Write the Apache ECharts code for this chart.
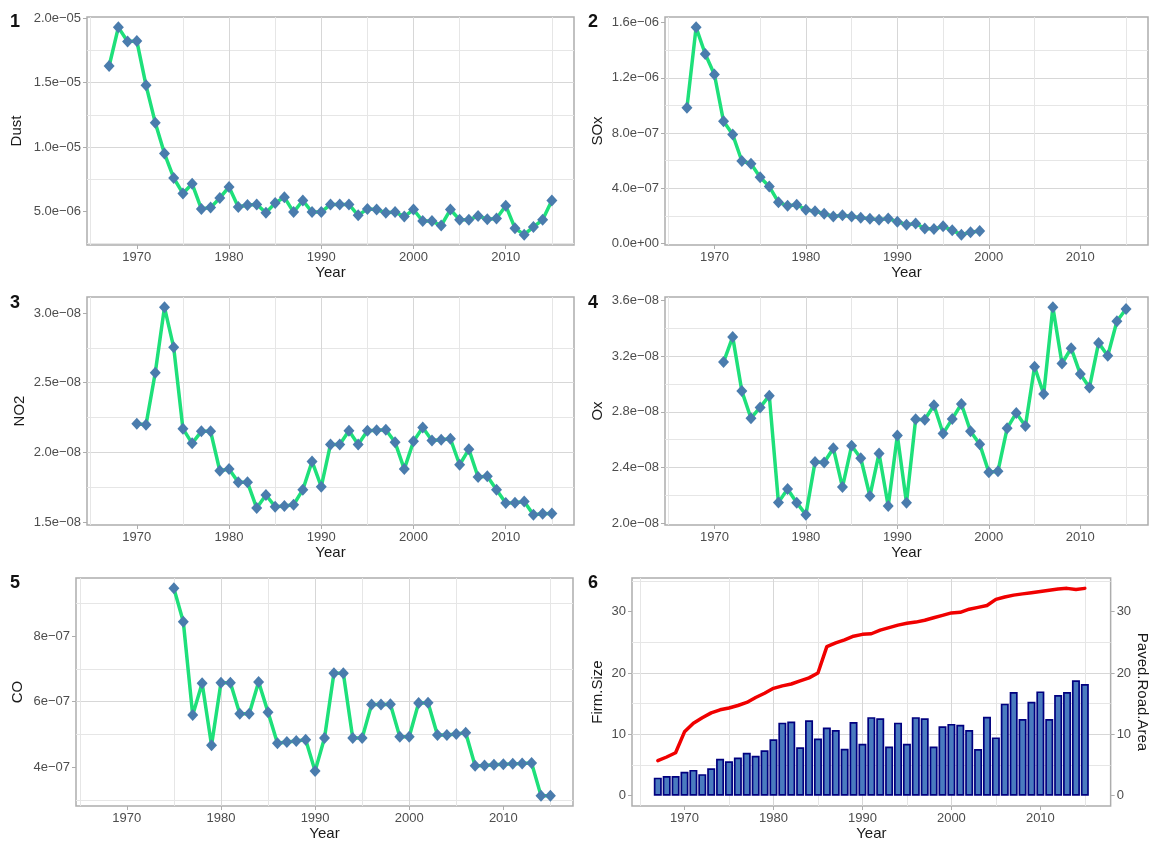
<!DOCTYPE html>
<html><head><meta charset="utf-8">
<script src="https://cdn.jsdelivr.net/npm/echarts@6/dist/echarts.min.js"></script>
<style>html,body{margin:0;padding:0;background:#fff}#c{width:1151px;height:842px}</style>
</head><body><div id="c"></div>
<script>
const years = [1967,1968,1969,1970,1971,1972,1973,1974,1975,1976,1977,1978,1979,1980,1981,1982,1983,1984,1985,1986,1987,1988,1989,1990,1991,1992,1993,1994,1995,1996,1997,1998,1999,2000,2001,2002,2003,2004,2005,2006,2007,2008,2009,2010,2011,2012,2013,2014,2015];

const dust = [16.3e-6,19.3e-6,18.2e-6,18.25e-6,14.8e-6,11.9e-6,9.5e-6,7.6e-6,6.4e-6,7.15e-6,
  5.2e-6,5.3e-6,6.05e-6,6.9e-6,5.35e-6,5.5e-6,5.55e-6,4.9e-6,5.65e-6,6.1e-6,
  4.95e-6,5.85e-6,4.95e-6,4.95e-6,5.55e-6,5.55e-6,5.55e-6,4.7e-6,5.2e-6,5.15e-6,
  4.9e-6,4.95e-6,4.6e-6,5.15e-6,4.25e-6,4.25e-6,3.9e-6,5.15e-6,4.35e-6,4.35e-6,
  4.65e-6,4.4e-6,4.45e-6,5.45e-6,3.7e-6,3.2e-6,3.8e-6,4.35e-6,5.85e-6];

const sox = [9.84e-7,15.65e-7,13.72e-7,12.24e-7,8.85e-7,7.89e-7,5.98e-7,5.78e-7,4.80e-7,4.13e-7,
  3.00e-7,2.74e-7,2.81e-7,2.45e-7,2.35e-7,2.16e-7,1.97e-7,2.06e-7,1.97e-7,1.87e-7,
  1.80e-7,1.73e-7,1.82e-7,1.58e-7,1.37e-7,1.46e-7,1.10e-7,1.06e-7,1.25e-7,0.96e-7,
  0.65e-7,0.82e-7,0.91e-7,
  null,null,null,null,null,null,null,null,null,null,null,null,null,null,null,null];

const no2 = [null,null,null,
  2.206e-8,2.199e-8,2.572e-8,3.041e-8,2.754e-8,2.170e-8,2.065e-8,2.151e-8,2.151e-8,1.868e-8,
  1.880e-8,1.785e-8,1.785e-8,1.600e-8,1.694e-8,1.610e-8,1.615e-8,1.624e-8,1.732e-8,1.935e-8,
  1.754e-8,2.057e-8,2.057e-8,2.155e-8,2.057e-8,2.155e-8,2.158e-8,2.163e-8,2.072e-8,1.880e-8,
  2.079e-8,2.179e-8,2.086e-8,2.091e-8,2.098e-8,1.911e-8,2.022e-8,1.823e-8,1.828e-8,1.732e-8,
  1.636e-8,1.639e-8,1.648e-8,1.553e-8,1.560e-8,1.562e-8];

const ox = [null,null,null,null,
  3.157e-8,3.338e-8,2.949e-8,2.754e-8,2.832e-8,2.916e-8,2.150e-8,2.246e-8,2.148e-8,2.062e-8,
  2.439e-8,2.436e-8,2.539e-8,2.260e-8,2.556e-8,2.467e-8,2.196e-8,2.501e-8,2.124e-8,2.630e-8,
  2.148e-8,2.746e-8,2.744e-8,2.847e-8,2.644e-8,2.749e-8,2.856e-8,2.661e-8,2.568e-8,2.367e-8,
  2.374e-8,2.682e-8,2.792e-8,2.699e-8,3.123e-8,2.928e-8,3.550e-8,3.147e-8,3.257e-8,3.071e-8,
  2.975e-8,3.295e-8,3.202e-8,3.450e-8,3.538e-8];

const co = [null,null,null,null,null,null,null,null,
  9.46e-7,8.44e-7,5.59e-7,6.56e-7,4.67e-7,6.58e-7,6.58e-7,5.63e-7,5.63e-7,6.60e-7,
  5.68e-7,4.73e-7,4.77e-7,4.80e-7,4.84e-7,3.88e-7,4.89e-7,6.87e-7,6.87e-7,4.89e-7,
  4.89e-7,5.91e-7,5.91e-7,5.92e-7,4.93e-7,4.93e-7,5.96e-7,5.97e-7,4.98e-7,4.98e-7,
  5.01e-7,5.05e-7,4.04e-7,4.05e-7,4.07e-7,4.09e-7,4.10e-7,4.11e-7,4.13e-7,3.13e-7,
  3.13e-7];

const firmSize = [2.93,3.2,3.2,3.9,4.2,3.5,4.45,6.0,5.6,6.2,
  7.0,6.5,7.4,9.2,11.9,12.1,7.9,12.3,9.3,11.1,
  10.7,7.65,12.0,8.46,12.8,12.6,8.0,11.9,8.46,12.8,
  12.6,8.0,11.3,11.7,11.55,10.7,7.6,12.85,9.5,15.0,
  16.9,12.5,15.3,17.0,12.5,16.4,16.9,18.8,18.2];

const pavedRoad = [5.7,6.3,7.0,10.4,11.8,12.7,13.5,14.0,14.3,14.7,
  15.2,16.0,16.7,17.5,17.9,18.2,18.7,19.2,20.0,24.3,
  24.9,25.4,26.0,26.3,26.4,27.0,27.4,27.8,28.1,28.3,
  28.6,29.0,29.4,29.8,29.9,30.4,30.7,31.0,32.0,32.4,
  32.7,32.9,33.1,33.3,33.5,33.7,33.8,33.6,33.8];

const xTicks = [1970,1980,1990,2000,2010];
const dustTicks = [5e-6,1e-5,1.5e-5,2e-5];
const soxTicks = [0,4e-7,8e-7,1.2e-6,1.6e-6];
const no2Ticks = [1.5e-8,2.0e-8,2.5e-8,3.0e-8];
const oxTicks = [2.0e-8,2.4e-8,2.8e-8,3.2e-8,3.6e-8];
const coTicks = [4e-7,6e-7,8e-7];
const sizeTicks = [0,10,20,30];

const FONT = '"Liberation Sans", Arial, sans-serif';
const GRIDC = '#D7D7D7', MINORC = '#E6E6E6', BORDER = '#ADADAD', LABELC = '#4D4D4D', TITLEC = '#1A1A1A';
const LINEC = '#1EE07A', PTC = '#4A7CAD';

function sci(d) {
  return function (v) {
    const s = Number(v).toExponential(d);
    const parts = s.split('e');
    const sign = parts[1][0] === '-' ? '\u2212' : '+';
    let n = parts[1].replace(/^[+-]/, '');
    if (n.length < 2) n = '0' + n;
    return parts[0] + 'e' + sign + n;
  };
}

function pairs(vals) { return years.map((y, i) => [y, vals[i]]); }

const grids = [
  {left: 87, top: 17, width: 487, height: 228},
  {left: 665, top: 17, width: 483, height: 228},
  {left: 87, top: 297, width: 487, height: 228},
  {left: 665, top: 297, width: 483, height: 228},
  {left: 76, top: 578, width: 497, height: 228},
  {left: 632, top: 578, width: 479, height: 228}
].map(g => Object.assign(g, {show: true, borderColor: BORDER, borderWidth: 1.5, backgroundColor: '#fff', containLabel: false}));

function xAxis(gi, min, max) {
  return {
    type: 'value', gridIndex: gi, min: min, max: max, minInterval: 10, maxInterval: 10, splitNumber: 5,
    name: 'Year', nameLocation: 'middle', nameGap: 20,
    nameTextStyle: {fontSize: 15, color: TITLEC, fontFamily: FONT},
    axisLine: {show: false, onZero: false},
    axisTick: {show: true, length: 4, lineStyle: {color: BORDER, width: 1}, customValues: xTicks},
    axisLabel: {show: true, customValues: xTicks, margin: 6, fontSize: 13, color: LABELC, fontFamily: FONT, formatter: v => String(Math.round(v))},
    splitLine: {show: true, showMinLine: false, showMaxLine: false, lineStyle: {color: GRIDC, width: 1}},
    minorTick: {show: false, splitNumber: 2},
    minorSplitLine: {show: true, lineStyle: {color: MINORC, width: 1}}
  };
}

function yAxis(gi, min, max, iv, ticks, fmt, name, gap, opts) {
  const a = {
    type: 'value', gridIndex: gi, min: min, max: max, minInterval: iv, maxInterval: iv, splitNumber: 5,
    name: name, nameLocation: 'middle', nameGap: gap,
    nameTextStyle: {fontSize: 15, color: TITLEC, fontFamily: FONT},
    axisLine: {show: false, onZero: false},
    axisTick: {show: true, length: 4, lineStyle: {color: BORDER, width: 1}, customValues: ticks},
    axisLabel: {show: true, customValues: ticks, margin: 6, fontSize: 13, color: LABELC, fontFamily: FONT, formatter: fmt},
    splitLine: {show: true, showMinLine: false, showMaxLine: false, lineStyle: {color: GRIDC, width: 1}},
    minorTick: {show: false, splitNumber: 2},
    minorSplitLine: {show: true, lineStyle: {color: MINORC, width: 1}}
  };
  return Object.assign(a, opts || {});
}

function pollutant(idx, vals) {
  return {
    type: 'line', xAxisIndex: idx, yAxisIndex: idx, data: pairs(vals),
    symbol: 'diamond', symbolSize: [11, 12], showAllSymbol: true, connectNulls: false,
    lineStyle: {color: LINEC, width: 3.5, join: 'round', cap: 'round'},
    itemStyle: {color: PTC, borderWidth: 0},
    emphasis: {disabled: true}, silent: true
  };
}

const panelNums = ['1', '2', '3', '4', '5', '6'];
const numPos = [[10, 13], [588, 13], [10, 294], [588, 294], [10, 574], [588, 574]];

const option = {
  animation: false,
  textStyle: {fontFamily: FONT},
  title: panelNums.map((t, i) => ({text: t, left: numPos[i][0], top: numPos[i][1], padding: 0,
    textStyle: {fontSize: 18, fontWeight: 'bold', color: '#111', fontFamily: FONT}})),
  grid: grids,
  xAxis: [
    xAxis(0, 1964.6, 2017.4),
    xAxis(1, 1964.6, 2017.4),
    xAxis(2, 1964.6, 2017.4),
    xAxis(3, 1964.6, 2017.4),
    xAxis(4, 1964.6, 2017.4),
    xAxis(5, 1964.1, 2017.9)
  ],
  yAxis: [
    yAxis(0, 2.395e-6, 2.0105e-5, 5e-6, dustTicks, sci(1), 'Dust', 63),
    yAxis(1, -0.01e-6, 1.64e-6, 4e-7, soxTicks, sci(1), 'SOx', 60),
    yAxis(2, 1.4786e-8, 3.1154e-8, 5e-9, no2Ticks, sci(1), 'NO2', 60),
    yAxis(3, 1.9876e-8, 3.6244e-8, 4e-9, oxTicks, sci(1), 'Ox', 60),
    yAxis(4, 2.8135e-7, 9.7765e-7, 2e-7, coTicks, sci(0), 'CO', 51),
    yAxis(5, -1.69, 35.49, 10, sizeTicks, v => String(Math.round(v)), 'Firm.Size', 27),
    yAxis(5, -1.69, 35.49, 10, sizeTicks, v => String(Math.round(v)), 'Paved.Road.Area', 24,
      {position: 'right', nameRotate: -90, splitLine: {show: false}, minorSplitLine: {show: false}})
  ],
  series: [
    pollutant(0, dust),
    pollutant(1, sox),
    pollutant(2, no2),
    pollutant(3, ox),
    pollutant(4, co),
    {
      type: 'bar', xAxisIndex: 5, yAxisIndex: 5, data: pairs(firmSize), barWidth: '90%',
      itemStyle: {color: '#4A7BBF', borderColor: '#00007F', borderWidth: 1.7},
      emphasis: {disabled: true}, silent: true
    },
    {
      type: 'line', xAxisIndex: 5, yAxisIndex: 6, data: pairs(pavedRoad), showSymbol: false, symbol: 'none',
      lineStyle: {color: '#F00000', width: 3.5, join: 'round', cap: 'round'},
      emphasis: {disabled: true}, silent: true
    }
  ]
};

const chart = echarts.init(document.getElementById('c'), null, {renderer: 'canvas'});
chart.setOption(option);
</script>
</body></html>
